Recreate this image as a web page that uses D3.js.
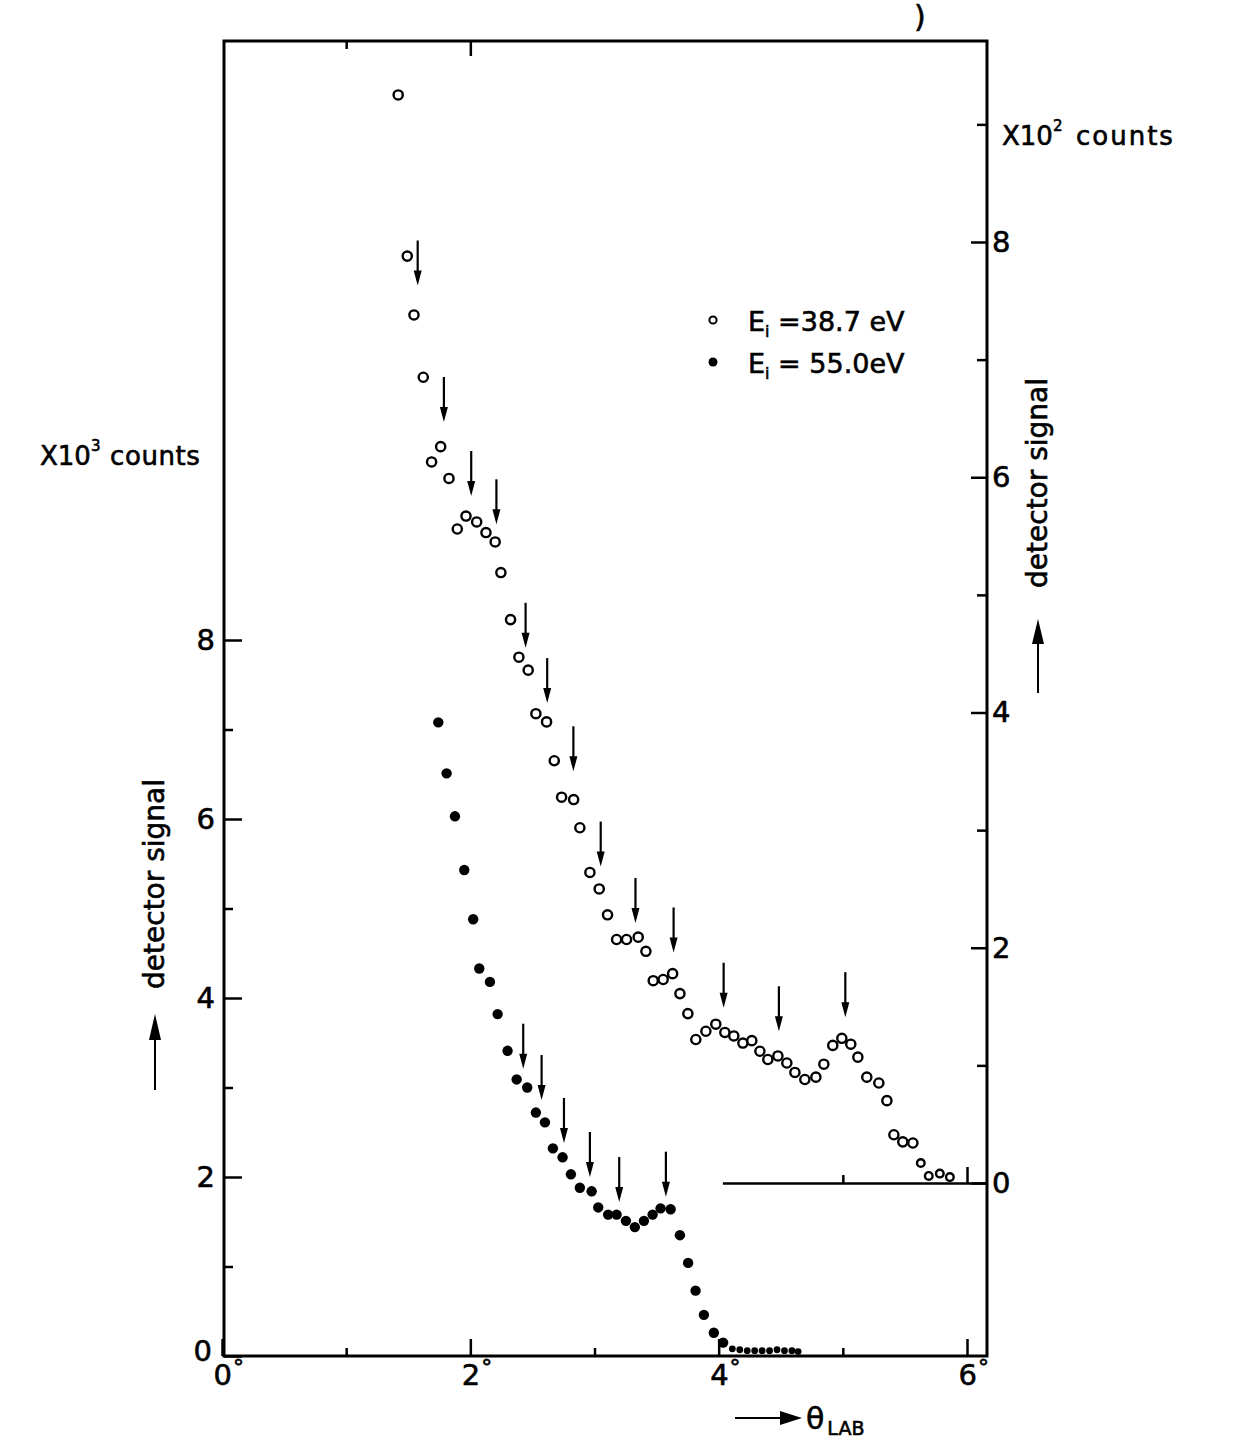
<!DOCTYPE html>
<html>
<head>
<meta charset="utf-8">
<script src="https://cdn.jsdelivr.net/npm/d3@7"></script>
<style>
  body { margin: 0; background: #fff; }
  #viz text { font-family: "DejaVu Sans", sans-serif; fill: #000; stroke: #000; stroke-width: 0.6px; }
</style>
</head>
<body>
<div id="viz"></div>
<script>
//DATA: open circles, E_i = 38.7 eV (right axis, x10^2 counts)
const openTheta = [1.419, 1.492, 1.546, 1.621, 1.688, 1.761, 1.828, 1.895, 1.965, 2.051,
  2.126, 2.200, 2.246, 2.324, 2.391, 2.466, 2.528, 2.614, 2.676, 2.735,
  2.832, 2.882, 2.963, 3.038, 3.105, 3.178, 3.258, 3.352, 3.414, 3.473,
  3.553, 3.629, 3.688, 3.752, 3.816, 3.897, 3.977, 4.050, 4.122, 4.195,
  4.267, 4.332, 4.396, 4.477, 4.549, 4.614, 4.694, 4.783, 4.847, 4.919,
  4.992, 5.064, 5.121, 5.193, 5.290, 5.355, 5.411, 5.483, 5.564, 5.628,
  5.692, 5.781, 5.862];
const openCounts = [9.25, 7.88, 7.38, 6.85, 6.13, 6.26, 5.99, 5.56, 5.67, 5.62,
  5.53, 5.45, 5.19, 4.79, 4.47, 4.36, 3.99, 3.92, 3.59, 3.28,
  3.26, 3.02, 2.64, 2.50, 2.28, 2.07, 2.07, 2.09, 1.97, 1.72,
  1.73, 1.78, 1.61, 1.44, 1.22, 1.29, 1.35, 1.28, 1.25, 1.19,
  1.21, 1.12, 1.05, 1.08, 1.02, 0.94, 0.88, 0.90, 1.01, 1.17,
  1.23, 1.18, 1.07, 0.90, 0.85, 0.70, 0.41, 0.35, 0.34, 0.17,
  0.06, 0.08, 0.05];

//DATA: filled circles, E_i = 55.0 eV (left axis, x10^3 counts)
const filledTheta = [1.742, 1.809, 1.876, 1.951, 2.023, 2.072, 2.158, 2.220, 2.300, 2.373,
  2.458, 2.528, 2.601, 2.665, 2.743, 2.810, 2.882, 2.977, 3.030, 3.110,
  3.178, 3.253, 3.325, 3.398, 3.468, 3.532, 3.613, 3.688, 3.754, 3.814,
  3.881, 3.961, 4.036, 4.110, 4.170, 4.230, 4.290, 4.350, 4.410, 4.470,
  4.530, 4.590, 4.640];
const filledCounts = [7.08, 6.51, 6.03, 5.43, 4.88, 4.33, 4.18, 3.82, 3.41, 3.09,
  3.00, 2.72, 2.61, 2.32, 2.22, 2.03, 1.88, 1.84, 1.66, 1.58,
  1.58, 1.51, 1.44, 1.51, 1.58, 1.65, 1.64, 1.35, 1.04, 0.73,
  0.46, 0.26, 0.15, 0.08, 0.07, 0.06, 0.06, 0.06, 0.06, 0.07,
  0.06, 0.06, 0.05];

//DATA: arrow marks (angle and the value where the arrow tip sits)
const openArrowTheta = [1.576, 1.787, 2.007, 2.210, 2.445, 2.619, 2.830, 3.050, 3.330, 3.637, 4.040, 4.485, 5.020];
const openArrowTip = [7.63, 6.47, 5.84, 5.60, 4.55, 4.08, 3.50, 2.69, 2.21, 1.96, 1.49, 1.29, 1.41];
const filledArrowTheta = [2.426, 2.574, 2.754, 2.963, 3.199, 3.575];
const filledArrowTip = [3.21, 2.86, 2.38, 2.00, 1.72, 1.78];

//DATA: ticks
const xMajorTicks = [0, 2, 4, 6];
const xMinorTicks = [1, 3, 5];
const leftMajorTicks = [0, 2, 4, 6, 8];
const leftMinorTicks = [1, 3, 5, 7];
const rightMajorTicks = [0, 2, 4, 6, 8];
const rightMinorTicks = [1, 3, 5, 7, 9];

const openPoints = openTheta.map((t, i) => ({ x: t, y: openCounts[i] }));
const filledPoints = filledTheta.map((t, i) => ({ x: t, y: filledCounts[i] }));

const svg = d3.select("#viz")
  .append("svg")
  .attr("width", 1240)
  .attr("height", 1455);

//scales (frame runs from x=224 to 987, y=41 to 1356)
const x = d3.scaleLinear().domain([0, 6]).range([222, 967]);
const yL = d3.scaleLinear().domain([0, 8]).range([1356, 640]);
const yR = d3.scaleLinear().domain([0, 8]).range([1183, 242]);

const frameLeft = 224, frameRight = 987, frameTop = 41, frameBottom = 1356;

//frame
svg.append("rect")
  .attr("x", frameLeft).attr("y", frameTop)
  .attr("width", frameRight - frameLeft).attr("height", frameBottom - frameTop)
  .attr("fill", "none").attr("stroke", "#000").attr("stroke-width", 3);

function styleAxis(g) {
  g.select(".domain").attr("stroke-width", 3);
  g.selectAll(".tick line").attr("stroke-width", 2.5);
  g.selectAll(".tick text").attr("font-size", 29).attr("font-family", "DejaVu Sans");
}

//left axis (the 0 label sits a little higher, as in the original)
svg.append("g")
  .attr("transform", `translate(${frameLeft},0)`)
  .call(d3.axisLeft(yL).tickValues(leftMajorTicks).tickSizeInner(-18).tickSizeOuter(0).tickPadding(9).tickFormat(d3.format("d")))
  .call(styleAxis)
  .call(g => g.select(".domain").remove())
  .call(g => g.selectAll(".tick text").filter(d => d === 0).attr("y", -5).attr("x", -12));
svg.append("g")
  .attr("transform", `translate(${frameLeft},0)`)
  .call(d3.axisLeft(yL).tickValues(leftMinorTicks).tickSizeInner(-9).tickSizeOuter(0).tickFormat(""))
  .call(styleAxis)
  .call(g => g.select(".domain").remove());

//right axis
svg.append("g")
  .attr("transform", `translate(${frameRight},0)`)
  .call(d3.axisRight(yR).tickValues(rightMajorTicks).tickSizeInner(-16).tickSizeOuter(0).tickPadding(5).tickFormat(d3.format("d")))
  .call(styleAxis)
  .call(g => g.select(".domain").remove());
svg.append("g")
  .attr("transform", `translate(${frameRight},0)`)
  .call(d3.axisRight(yR).tickValues(rightMinorTicks).tickSizeInner(-10).tickSizeOuter(0).tickFormat(""))
  .call(styleAxis)
  .call(g => g.select(".domain").remove());

//bottom axis with degree labels
svg.append("g")
  .attr("transform", `translate(0,${frameBottom})`)
  .call(d3.axisBottom(x).tickValues(xMajorTicks).tickSizeInner(-17).tickSizeOuter(0).tickPadding(8).tickFormat(""))
  .call(styleAxis)
  .call(g => g.select(".domain").remove())
  .call(g => g.selectAll(".tick text")
    .attr("text-anchor", "start")
    .attr("x", -9)
    .each(function(d) {
      const t = d3.select(this);
      t.append("tspan").text(d);
      t.append("tspan").attr("font-size", 22).attr("dy", "-0.45em").attr("dx", 1).text("°");
    }));
svg.append("g")
  .attr("transform", `translate(0,${frameBottom})`)
  .call(d3.axisBottom(x).tickValues(xMinorTicks).tickSizeInner(-8).tickSizeOuter(0).tickFormat(""))
  .call(styleAxis)
  .call(g => g.select(".domain").remove());

//top ticks
svg.append("g")
  .attr("transform", `translate(0,${frameTop})`)
  .call(d3.axisTop(x).tickValues([2]).tickSizeInner(-15).tickSizeOuter(0).tickFormat(""))
  .call(styleAxis)
  .call(g => g.select(".domain").remove());
svg.append("g")
  .attr("transform", `translate(0,${frameTop})`)
  .call(d3.axisTop(x).tickValues([1]).tickSizeInner(-8).tickSizeOuter(0).tickFormat(""))
  .call(styleAxis)
  .call(g => g.select(".domain").remove());

//zero line of the right axis (starts near 4 degrees)
const xBase = d3.scaleLinear().domain([4.03, 6.16]).range([x(4.03), x(6.16)]);
svg.append("g")
  .attr("transform", `translate(0,${yR(0)})`)
  .call(d3.axisBottom(xBase).tickValues([6]).tickSizeInner(-16).tickSizeOuter(0).tickFormat(""))
  .call(styleAxis)
  .call(g => g.select(".domain").attr("stroke-width", 2.5));
svg.append("g")
  .attr("transform", `translate(0,${yR(0)})`)
  .call(d3.axisBottom(xBase).tickValues([5]).tickSizeInner(-8).tickSizeOuter(0).tickFormat(""))
  .call(styleAxis)
  .call(g => g.select(".domain").remove());

//arrows: shaft plus narrow filled head, tip at the data value
const arrowLen = 45, headLen = 15, headHalf = 4;
function drawArrows(thetas, tips, yScale) {
  const data = thetas.map((t, i) => ({ x: x(t), y: yScale(tips[i]) }));
  svg.append("g").selectAll("line")
    .data(data).enter().append("line")
    .attr("x1", d => d.x).attr("x2", d => d.x)
    .attr("y1", d => d.y - arrowLen).attr("y2", d => d.y - headLen + 2)
    .attr("stroke", "#000").attr("stroke-width", 2.2);
  svg.append("g").selectAll("path")
    .data(data).enter().append("path")
    .attr("d", d => `M${d.x - headHalf},${d.y - headLen} L${d.x + headHalf},${d.y - headLen} L${d.x},${d.y} Z`)
    .attr("fill", "#000");
}
drawArrows(openArrowTheta, openArrowTip, yR);
drawArrows(filledArrowTheta, filledArrowTip, yL);

//open circles
svg.append("g").selectAll("circle")
  .data(openPoints).enter().append("circle")
  .attr("cx", d => x(d.x)).attr("cy", d => yR(d.y))
  .attr("r", d => d.x > 5.6 ? 3.8 : 4.6)
  .attr("fill", "#fff").attr("stroke", "#000").attr("stroke-width", 2.4);

//filled circles
svg.append("g").selectAll("circle")
  .data(filledPoints).enter().append("circle")
  .attr("cx", d => x(d.x)).attr("cy", d => yL(d.y))
  .attr("r", d => d.x > 4.05 ? 3.4 : 5.2)
  .attr("fill", "#000");

//left axis labels
svg.append("text").attr("x", 40).attr("y", 465).attr("font-size", 26)
  .text("X10")
  .append("tspan").attr("font-size", 15).attr("dy", -14).text("3");
svg.append("text").attr("x", 110).attr("y", 465).attr("font-size", 26).attr("letter-spacing", 0.6).text("counts");
svg.append("text")
  .attr("transform", "translate(164,884) rotate(-90)")
  .attr("text-anchor", "middle").attr("font-size", 28)
  .text("detector signal");
svg.append("line").attr("x1", 155).attr("x2", 155).attr("y1", 1090).attr("y2", 1036)
  .attr("stroke", "#000").attr("stroke-width", 2);
svg.append("path").attr("d", "M149,1040 L161,1040 L155,1014 Z").attr("fill", "#000");

//right axis labels
svg.append("text").attr("x", 1002).attr("y", 145).attr("font-size", 26)
  .text("X10")
  .append("tspan").attr("font-size", 15).attr("dy", -14).text("2");
svg.append("text").attr("x", 1076).attr("y", 145).attr("font-size", 26).attr("letter-spacing", 2).text("counts");
svg.append("text")
  .attr("transform", "translate(1047,483) rotate(-90)")
  .attr("text-anchor", "middle").attr("font-size", 28)
  .text("detector signal");
svg.append("line").attr("x1", 1038).attr("x2", 1038).attr("y1", 693).attr("y2", 640)
  .attr("stroke", "#000").attr("stroke-width", 2);
svg.append("path").attr("d", "M1032,644 L1044,644 L1038,619 Z").attr("fill", "#000");

//x axis label
svg.append("line").attr("x1", 735).attr("x2", 785).attr("y1", 1418).attr("y2", 1418)
  .attr("stroke", "#000").attr("stroke-width", 2);
svg.append("path").attr("d", "M780,1411 L780,1425 L802,1418 Z").attr("fill", "#000");
const thetaLabel = svg.append("text").attr("x", 806).attr("y", 1429).attr("font-size", 30);
thetaLabel.append("tspan").text("θ");
thetaLabel.append("tspan").attr("font-size", 19).attr("dy", 6).attr("dx", 3).text("LAB");

//legend
svg.append("circle").attr("cx", 713).attr("cy", 320).attr("r", 3.6)
  .attr("fill", "#fff").attr("stroke", "#000").attr("stroke-width", 2);
svg.append("circle").attr("cx", 713).attr("cy", 362).attr("r", 4.5).attr("fill", "#000");
const leg1 = svg.append("text").attr("x", 748).attr("y", 331).attr("font-size", 27);
leg1.append("tspan").text("E");
leg1.append("tspan").attr("font-size", 16).attr("dy", 6).text("i");
leg1.append("tspan").attr("dy", -6).text(" =38.7 eV");
const leg2 = svg.append("text").attr("x", 748).attr("y", 373).attr("font-size", 27);
leg2.append("tspan").text("E");
leg2.append("tspan").attr("font-size", 16).attr("dy", 6).text("i");
leg2.append("tspan").attr("dy", -6).text(" = 55.0eV");

//stray mark at the top edge
svg.append("text").attr("x", 914).attr("y", 27).attr("font-size", 30).text(")");
</script>
</body>
</html>
